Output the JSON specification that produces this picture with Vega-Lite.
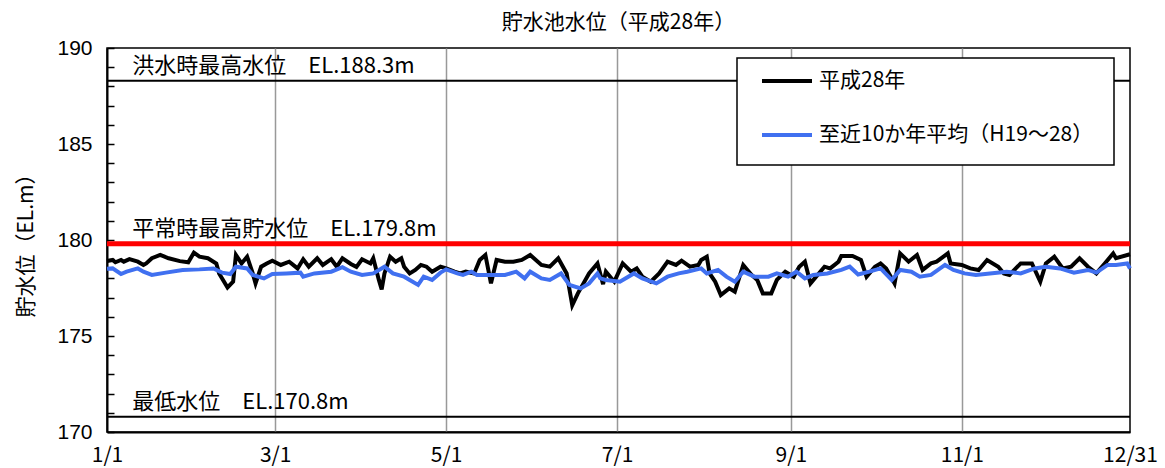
{
  "$schema": "https://vega.github.io/schema/vega-lite/v6.json",
  "width": 1023,
  "height": 384,
  "autosize": {"type": "none"},
  "padding": {"left": 107, "top": 48, "right": 35, "bottom": 36},
  "background": "white",
  "title": {"text": "貯水池水位（平成28年）", "font": "Noto Sans CJK JP", "fontSize": 21, "fontWeight": "normal", "color": "#000", "anchor": "middle", "offset": 4},
  "config": {"view": {"stroke": "#000", "strokeWidth": 1.5}, "legend": {"strokeWidth": 1.5}},
  "encoding": {
    "y": {"field": "v", "type": "quantitative", "scale": {"domain": [170, 190], "nice": false, "zero": false},
      "axis": {"values": [170,171,172,173,174,175,176,177,178,179,180,181,182,183,184,185,186,187,188,189,190],
        "labelExpr": "datum.value % 5 === 0 ? datum.label : ''",
        "title": "貯水位（EL.m）", "titleFont": "Noto Sans CJK JP", "titleFontSize": 21, "titleFontWeight": "normal", "titleColor": "#000", "titlePadding": 20,
        "labelFont": "Liberation Sans", "labelFontSize": 21, "labelColor": "#000", "labelPadding": 22,
        "tickSize": -7, "tickColor": "#000", "tickWidth": 1.5, "domainColor": "#000", "domainWidth": 2, "grid": false}}
  },
  "layer": [
    {
      "data": {"values": [{"v": 188.3}, {"v": 170.8}]},
      "mark": {"type": "rule", "color": "#000", "strokeWidth": 2},
      "encoding": {}
    },
    {
      "data": {"values": [{"v": 179.8}]},
      "mark": {"type": "rule", "color": "#ff0000", "strokeWidth": 5},
      "encoding": {}
    },
    {
      "data": {"values": [
        {"d": "2016-01-10", "v": 188.3, "t": "洪水時最高水位　EL.188.3m"},
        {"d": "2016-01-10", "v": 179.8, "t": "平常時最高貯水位　EL.179.8m"},
        {"d": "2016-01-10", "v": 170.8, "t": "最低水位　EL.170.8m"}
      ]},
      "mark": {"type": "text", "align": "left", "baseline": "bottom", "dy": -3, "font": "Noto Sans CJK JP", "fontSize": 22, "color": "#000"},
      "encoding": {
        "x": {"field": "d", "type": "temporal", "scale": {"type": "utc"}, "axis": {"title": null}},
        "text": {"field": "t"}
      }
    },
    {
      "data": {"values": [
        {"s":"平成28年","d":"2016-01-01","v":178.9},
        {"s":"平成28年","d":"2016-01-03","v":178.96},
        {"s":"平成28年","d":"2016-01-04","v":178.84},
        {"s":"平成28年","d":"2016-01-06","v":178.96},
        {"s":"平成28年","d":"2016-01-07","v":178.87},
        {"s":"平成28年","d":"2016-01-09","v":179.0},
        {"s":"平成28年","d":"2016-01-12","v":178.87},
        {"s":"平成28年","d":"2016-01-14","v":178.7},
        {"s":"平成28年","d":"2016-01-15","v":178.78},
        {"s":"平成28年","d":"2016-01-17","v":179.05},
        {"s":"平成28年","d":"2016-01-20","v":179.22},
        {"s":"平成28年","d":"2016-01-23","v":179.05},
        {"s":"平成28年","d":"2016-01-27","v":178.9},
        {"s":"平成28年","d":"2016-01-30","v":178.84},
        {"s":"平成28年","d":"2016-02-01","v":179.34},
        {"s":"平成28年","d":"2016-02-03","v":179.13},
        {"s":"平成28年","d":"2016-02-06","v":179.05},
        {"s":"平成28年","d":"2016-02-09","v":178.78},
        {"s":"平成28年","d":"2016-02-10","v":178.26},
        {"s":"平成28年","d":"2016-02-13","v":177.53},
        {"s":"平成28年","d":"2016-02-15","v":177.83},
        {"s":"平成28年","d":"2016-02-16","v":179.22},
        {"s":"平成28年","d":"2016-02-18","v":178.78},
        {"s":"平成28年","d":"2016-02-20","v":179.13},
        {"s":"平成28年","d":"2016-02-22","v":178.26},
        {"s":"平成28年","d":"2016-02-23","v":177.74},
        {"s":"平成28年","d":"2016-02-25","v":178.61},
        {"s":"平成28年","d":"2016-02-27","v":178.78},
        {"s":"平成28年","d":"2016-02-29","v":178.92},
        {"s":"平成28年","d":"2016-03-03","v":178.7},
        {"s":"平成28年","d":"2016-03-06","v":178.87},
        {"s":"平成28年","d":"2016-03-09","v":178.52},
        {"s":"平成28年","d":"2016-03-11","v":179.0},
        {"s":"平成28年","d":"2016-03-13","v":178.61},
        {"s":"平成28年","d":"2016-03-16","v":179.05},
        {"s":"平成28年","d":"2016-03-18","v":178.7},
        {"s":"平成28年","d":"2016-03-21","v":179.0},
        {"s":"平成28年","d":"2016-03-23","v":178.61},
        {"s":"平成28年","d":"2016-03-25","v":179.05},
        {"s":"平成28年","d":"2016-03-28","v":178.75},
        {"s":"平成28年","d":"2016-03-30","v":178.6},
        {"s":"平成28年","d":"2016-04-01","v":179.0},
        {"s":"平成28年","d":"2016-04-04","v":178.78},
        {"s":"平成28年","d":"2016-04-05","v":179.05},
        {"s":"平成28年","d":"2016-04-07","v":177.92},
        {"s":"平成28年","d":"2016-04-08","v":177.43},
        {"s":"平成28年","d":"2016-04-09","v":178.26},
        {"s":"平成28年","d":"2016-04-11","v":179.13},
        {"s":"平成28年","d":"2016-04-13","v":178.87},
        {"s":"平成28年","d":"2016-04-15","v":179.05},
        {"s":"平成28年","d":"2016-04-16","v":178.61},
        {"s":"平成28年","d":"2016-04-18","v":178.26},
        {"s":"平成28年","d":"2016-04-20","v":178.44},
        {"s":"平成28年","d":"2016-04-22","v":178.7},
        {"s":"平成28年","d":"2016-04-24","v":178.61},
        {"s":"平成28年","d":"2016-04-26","v":178.35},
        {"s":"平成28年","d":"2016-04-29","v":178.61},
        {"s":"平成28年","d":"2016-05-01","v":178.52},
        {"s":"平成28年","d":"2016-05-04","v":178.35},
        {"s":"平成28年","d":"2016-05-06","v":178.26},
        {"s":"平成28年","d":"2016-05-08","v":178.35},
        {"s":"平成28年","d":"2016-05-11","v":178.26},
        {"s":"平成28年","d":"2016-05-13","v":178.96},
        {"s":"平成28年","d":"2016-05-15","v":179.22},
        {"s":"平成28年","d":"2016-05-17","v":177.74},
        {"s":"平成28年","d":"2016-05-19","v":178.96},
        {"s":"平成28年","d":"2016-05-22","v":178.87},
        {"s":"平成28年","d":"2016-05-25","v":178.87},
        {"s":"平成28年","d":"2016-05-28","v":178.96},
        {"s":"平成28年","d":"2016-05-31","v":179.22},
        {"s":"平成28年","d":"2016-06-04","v":178.7},
        {"s":"平成28年","d":"2016-06-07","v":178.61},
        {"s":"平成28年","d":"2016-06-10","v":179.05},
        {"s":"平成28年","d":"2016-06-13","v":178.26},
        {"s":"平成28年","d":"2016-06-15","v":176.6},
        {"s":"平成28年","d":"2016-06-17","v":177.22},
        {"s":"平成28年","d":"2016-06-19","v":177.74},
        {"s":"平成28年","d":"2016-06-21","v":178.26},
        {"s":"平成28年","d":"2016-06-24","v":178.78},
        {"s":"平成28年","d":"2016-06-26","v":177.7},
        {"s":"平成28年","d":"2016-06-27","v":178.35},
        {"s":"平成28年","d":"2016-06-30","v":177.83},
        {"s":"平成28年","d":"2016-07-03","v":178.78},
        {"s":"平成28年","d":"2016-07-06","v":178.35},
        {"s":"平成28年","d":"2016-07-08","v":178.52},
        {"s":"平成28年","d":"2016-07-10","v":178.09},
        {"s":"平成28年","d":"2016-07-13","v":177.83},
        {"s":"平成28年","d":"2016-07-16","v":178.26},
        {"s":"平成28年","d":"2016-07-19","v":178.87},
        {"s":"平成28年","d":"2016-07-22","v":178.7},
        {"s":"平成28年","d":"2016-07-24","v":178.92},
        {"s":"平成28年","d":"2016-07-27","v":178.61},
        {"s":"平成28年","d":"2016-07-30","v":178.7},
        {"s":"平成28年","d":"2016-07-31","v":178.96},
        {"s":"平成28年","d":"2016-08-02","v":179.13},
        {"s":"平成28年","d":"2016-08-03","v":178.26},
        {"s":"平成28年","d":"2016-08-05","v":177.83},
        {"s":"平成28年","d":"2016-08-07","v":177.13},
        {"s":"平成28年","d":"2016-08-10","v":177.48},
        {"s":"平成28年","d":"2016-08-12","v":177.31},
        {"s":"平成28年","d":"2016-08-15","v":178.7},
        {"s":"平成28年","d":"2016-08-18","v":178.18},
        {"s":"平成28年","d":"2016-08-20","v":177.92},
        {"s":"平成28年","d":"2016-08-22","v":177.22},
        {"s":"平成28年","d":"2016-08-25","v":177.22},
        {"s":"平成28年","d":"2016-08-27","v":177.92},
        {"s":"平成28年","d":"2016-08-30","v":178.35},
        {"s":"平成28年","d":"2016-09-02","v":178.09},
        {"s":"平成28年","d":"2016-09-04","v":178.61},
        {"s":"平成28年","d":"2016-09-06","v":178.87},
        {"s":"平成28年","d":"2016-09-08","v":177.74},
        {"s":"平成28年","d":"2016-09-10","v":178.09},
        {"s":"平成28年","d":"2016-09-13","v":178.61},
        {"s":"平成28年","d":"2016-09-15","v":178.52},
        {"s":"平成28年","d":"2016-09-18","v":178.87},
        {"s":"平成28年","d":"2016-09-19","v":179.17},
        {"s":"平成28年","d":"2016-09-23","v":179.17},
        {"s":"平成28年","d":"2016-09-26","v":178.96},
        {"s":"平成28年","d":"2016-09-28","v":178.09},
        {"s":"平成28年","d":"2016-10-01","v":178.61},
        {"s":"平成28年","d":"2016-10-03","v":178.78},
        {"s":"平成28年","d":"2016-10-05","v":178.52},
        {"s":"平成28年","d":"2016-10-08","v":177.74},
        {"s":"平成28年","d":"2016-10-10","v":179.3},
        {"s":"平成28年","d":"2016-10-13","v":178.87},
        {"s":"平成28年","d":"2016-10-16","v":179.22},
        {"s":"平成28年","d":"2016-10-18","v":178.44},
        {"s":"平成28年","d":"2016-10-21","v":178.78},
        {"s":"平成28年","d":"2016-10-23","v":178.87},
        {"s":"平成28年","d":"2016-10-27","v":179.3},
        {"s":"平成28年","d":"2016-10-28","v":178.78},
        {"s":"平成28年","d":"2016-11-01","v":178.7},
        {"s":"平成28年","d":"2016-11-04","v":178.52},
        {"s":"平成28年","d":"2016-11-07","v":178.44},
        {"s":"平成28年","d":"2016-11-10","v":178.96},
        {"s":"平成28年","d":"2016-11-14","v":178.61},
        {"s":"平成28年","d":"2016-11-16","v":178.26},
        {"s":"平成28年","d":"2016-11-18","v":178.18},
        {"s":"平成28年","d":"2016-11-22","v":178.78},
        {"s":"平成28年","d":"2016-11-26","v":178.78},
        {"s":"平成28年","d":"2016-11-29","v":177.83},
        {"s":"平成28年","d":"2016-12-01","v":178.78},
        {"s":"平成28年","d":"2016-12-04","v":179.13},
        {"s":"平成28年","d":"2016-12-07","v":178.52},
        {"s":"平成28年","d":"2016-12-10","v":178.61},
        {"s":"平成28年","d":"2016-12-13","v":179.05},
        {"s":"平成28年","d":"2016-12-16","v":178.61},
        {"s":"平成28年","d":"2016-12-19","v":178.26},
        {"s":"平成28年","d":"2016-12-22","v":178.78},
        {"s":"平成28年","d":"2016-12-25","v":179.3},
        {"s":"平成28年","d":"2016-12-26","v":179.05},
        {"s":"平成28年","d":"2016-12-31","v":179.26},
        {"s":"至近10か年平均（H19～28）","d":"2016-01-01","v":178.5},
        {"s":"至近10か年平均（H19～28）","d":"2016-01-03","v":178.52},
        {"s":"至近10か年平均（H19～28）","d":"2016-01-06","v":178.23},
        {"s":"至近10か年平均（H19～28）","d":"2016-01-08","v":178.35},
        {"s":"至近10か年平均（H19～28）","d":"2016-01-12","v":178.52},
        {"s":"至近10か年平均（H19～28）","d":"2016-01-14","v":178.35},
        {"s":"至近10か年平均（H19～28）","d":"2016-01-17","v":178.18},
        {"s":"至近10か年平均（H19～28）","d":"2016-01-22","v":178.3},
        {"s":"至近10か年平均（H19～28）","d":"2016-01-28","v":178.44},
        {"s":"至近10か年平均（H19～28）","d":"2016-02-03","v":178.47},
        {"s":"至近10か年平均（H19～28）","d":"2016-02-08","v":178.52},
        {"s":"至近10か年平均（H19～28）","d":"2016-02-11","v":178.3},
        {"s":"至近10か年平均（H19～28）","d":"2016-02-14","v":178.23},
        {"s":"至近10か年平均（H19～28）","d":"2016-02-16","v":178.61},
        {"s":"至近10か年平均（H19～28）","d":"2016-02-20","v":178.52},
        {"s":"至近10か年平均（H19～28）","d":"2016-02-22","v":178.18},
        {"s":"至近10か年平均（H19～28）","d":"2016-02-26","v":178.0},
        {"s":"至近10か年平均（H19～28）","d":"2016-02-29","v":178.23},
        {"s":"至近10か年平均（H19～28）","d":"2016-03-05","v":178.26},
        {"s":"至近10か年平均（H19～28）","d":"2016-03-10","v":178.3},
        {"s":"至近10か年平均（H19～28）","d":"2016-03-11","v":178.09},
        {"s":"至近10か年平均（H19～28）","d":"2016-03-15","v":178.26},
        {"s":"至近10か年平均（H19～28）","d":"2016-03-21","v":178.35},
        {"s":"至近10か年平均（H19～28）","d":"2016-03-25","v":178.58},
        {"s":"至近10か年平均（H19～28）","d":"2016-03-28","v":178.35},
        {"s":"至近10か年平均（H19～28）","d":"2016-04-01","v":178.18},
        {"s":"至近10か年平均（H19～28）","d":"2016-04-05","v":178.26},
        {"s":"至近10か年平均（H19～28）","d":"2016-04-09","v":178.61},
        {"s":"至近10か年平均（H19～28）","d":"2016-04-12","v":178.26},
        {"s":"至近10か年平均（H19～28）","d":"2016-04-16","v":178.09},
        {"s":"至近10か年平均（H19～28）","d":"2016-04-18","v":177.92},
        {"s":"至近10か年平均（H19～28）","d":"2016-04-21","v":177.66},
        {"s":"至近10か年平均（H19～28）","d":"2016-04-23","v":178.09},
        {"s":"至近10か年平均（H19～28）","d":"2016-04-26","v":177.92},
        {"s":"至近10か年平均（H19～28）","d":"2016-04-29","v":178.3},
        {"s":"至近10か年平均（H19～28）","d":"2016-05-01","v":178.47},
        {"s":"至近10か年平均（H19～28）","d":"2016-05-05","v":178.26},
        {"s":"至近10か年平均（H19～28）","d":"2016-05-07","v":178.18},
        {"s":"至近10か年平均（H19～28）","d":"2016-05-10","v":178.35},
        {"s":"至近10か年平均（H19～28）","d":"2016-05-12","v":178.18},
        {"s":"至近10か年平均（H19～28）","d":"2016-05-17","v":178.18},
        {"s":"至近10か年平均（H19～28）","d":"2016-05-22","v":178.18},
        {"s":"至近10か年平均（H19～28）","d":"2016-05-26","v":178.35},
        {"s":"至近10か年平均（H19～28）","d":"2016-05-29","v":178.0},
        {"s":"至近10か年平均（H19～28）","d":"2016-05-31","v":178.35},
        {"s":"至近10か年平均（H19～28）","d":"2016-06-04","v":178.0},
        {"s":"至近10か年平均（H19～28）","d":"2016-06-07","v":177.92},
        {"s":"至近10か年平均（H19～28）","d":"2016-06-11","v":178.26},
        {"s":"至近10か年平均（H19～28）","d":"2016-06-14","v":177.66},
        {"s":"至近10か年平均（H19～28）","d":"2016-06-18","v":177.48},
        {"s":"至近10か年平均（H19～28）","d":"2016-06-21","v":177.74},
        {"s":"至近10か年平均（H19～28）","d":"2016-06-24","v":178.26},
        {"s":"至近10か年平均（H19～28）","d":"2016-06-25","v":178.0},
        {"s":"至近10か年平均（H19～28）","d":"2016-06-27","v":177.92},
        {"s":"至近10か年平均（H19～28）","d":"2016-07-02","v":177.83},
        {"s":"至近10か年平均（H19～28）","d":"2016-07-07","v":178.26},
        {"s":"至近10か年平均（H19～28）","d":"2016-07-10","v":178.0},
        {"s":"至近10か年平均（H19～28）","d":"2016-07-15","v":177.74},
        {"s":"至近10か年平均（H19～28）","d":"2016-07-19","v":178.09},
        {"s":"至近10か年平均（H19～28）","d":"2016-07-23","v":178.26},
        {"s":"至近10か年平均（H19～28）","d":"2016-07-26","v":178.35},
        {"s":"至近10か年平均（H19～28）","d":"2016-07-31","v":178.52},
        {"s":"至近10か年平均（H19～28）","d":"2016-08-02","v":178.26},
        {"s":"至近10か年平均（H19～28）","d":"2016-08-06","v":178.44},
        {"s":"至近10か年平均（H19～28）","d":"2016-08-09","v":178.09},
        {"s":"至近10か年平均（H19～28）","d":"2016-08-12","v":177.83},
        {"s":"至近10か年平均（H19～28）","d":"2016-08-15","v":178.35},
        {"s":"至近10か年平均（H19～28）","d":"2016-08-19","v":178.09},
        {"s":"至近10か年平均（H19～28）","d":"2016-08-24","v":178.09},
        {"s":"至近10か年平均（H19～28）","d":"2016-08-27","v":178.26},
        {"s":"至近10か年平均（H19～28）","d":"2016-08-31","v":178.09},
        {"s":"至近10か年平均（H19～28）","d":"2016-09-03","v":178.35},
        {"s":"至近10か年平均（H19～28）","d":"2016-09-06","v":178.0},
        {"s":"至近10か年平均（H19～28）","d":"2016-09-09","v":178.18},
        {"s":"至近10か年平均（H19～28）","d":"2016-09-14","v":178.26},
        {"s":"至近10か年平均（H19～28）","d":"2016-09-19","v":178.44},
        {"s":"至近10か年平均（H19～28）","d":"2016-09-22","v":178.61},
        {"s":"至近10か年平均（H19～28）","d":"2016-09-25","v":178.2},
        {"s":"至近10か年平均（H19～28）","d":"2016-09-29","v":178.35},
        {"s":"至近10か年平均（H19～28）","d":"2016-10-03","v":178.52},
        {"s":"至近10か年平均（H19～28）","d":"2016-10-07","v":177.92},
        {"s":"至近10か年平均（H19～28）","d":"2016-10-10","v":178.44},
        {"s":"至近10か年平均（H19～28）","d":"2016-10-14","v":178.35},
        {"s":"至近10か年平均（H19～28）","d":"2016-10-17","v":178.09},
        {"s":"至近10か年平均（H19～28）","d":"2016-10-21","v":178.18},
        {"s":"至近10か年平均（H19～28）","d":"2016-10-26","v":178.7},
        {"s":"至近10か年平均（H19～28）","d":"2016-10-29","v":178.44},
        {"s":"至近10か年平均（H19～28）","d":"2016-11-02","v":178.26},
        {"s":"至近10か年平均（H19～28）","d":"2016-11-06","v":178.18},
        {"s":"至近10か年平均（H19～28）","d":"2016-11-11","v":178.26},
        {"s":"至近10か年平均（H19～28）","d":"2016-11-17","v":178.35},
        {"s":"至近10か年平均（H19～28）","d":"2016-11-22","v":178.26},
        {"s":"至近10か年平均（H19～28）","d":"2016-11-27","v":178.52},
        {"s":"至近10か年平均（H19～28）","d":"2016-12-01","v":178.61},
        {"s":"至近10か年平均（H19～28）","d":"2016-12-06","v":178.52},
        {"s":"至近10か年平均（H19～28）","d":"2016-12-11","v":178.3},
        {"s":"至近10か年平均（H19～28）","d":"2016-12-16","v":178.44},
        {"s":"至近10か年平均（H19～28）","d":"2016-12-19","v":178.3},
        {"s":"至近10か年平均（H19～28）","d":"2016-12-23","v":178.7},
        {"s":"至近10か年平均（H19～28）","d":"2016-12-26","v":178.7},
        {"s":"至近10か年平均（H19～28）","d":"2016-12-30","v":178.78},
        {"s":"至近10か年平均（H19～28）","d":"2016-12-31","v":178.52}
      ]},
      "mark": {"type": "line", "strokeWidth": 4},
      "encoding": {
        "x": {"field": "d", "type": "temporal",
          "scale": {"type": "utc", "domain": [{"year": 2016, "month": 1, "date": 1, "utc": true}, {"year": 2016, "month": 12, "date": 31, "utc": true}]},
          "axis": {
            "values": [
              {"year": 2016, "month": 1, "date": 1, "utc": true},
              {"year": 2016, "month": 3, "date": 1, "utc": true},
              {"year": 2016, "month": 5, "date": 1, "utc": true},
              {"year": 2016, "month": 7, "date": 1, "utc": true},
              {"year": 2016, "month": 9, "date": 1, "utc": true},
              {"year": 2016, "month": 11, "date": 1, "utc": true},
              {"year": 2016, "month": 12, "date": 31, "utc": true}
            ],
            "labelExpr": "utcFormat(datum.value, '%-m/%-d')",
            "title": null, "ticks": false,
            "labelFont": "Noto Sans CJK JP", "labelFontSize": 21, "labelColor": "#000", "labelPadding": 12,
            "labelFlush": false, "labelOverlap": false,
            "grid": true, "gridColor": "#999", "gridWidth": 1.5,
            "gridOpacity": {"condition": {"test": "utcmonth(datum.value) == 0 || utcmonth(datum.value) == 11", "value": 0}, "value": 1},
            "domainColor": "#000", "domainWidth": 2
          }},
        "color": {"field": "s", "type": "nominal",
          "scale": {"domain": ["平成28年", "至近10か年平均（H19～28）"], "range": ["#000000", "#4070f0"]},
          "legend": {"title": null, "orient": "none", "legendX": 630, "legendY": 10, "direction": "vertical",
            "symbolType": "stroke", "symbolSize": 2500, "symbolStrokeWidth": 4, "symbolOffset": 3,
            "labelFont": "Noto Sans CJK JP", "labelFontSize": 21, "labelColor": "#000", "labelOffset": 5, "labelLimit": 500,
            "clipHeight": 6, "rowPadding": 33, "padding": 20, "strokeColor": "#000", "fillColor": "#fff"}}
      }
    }
  ]
}
